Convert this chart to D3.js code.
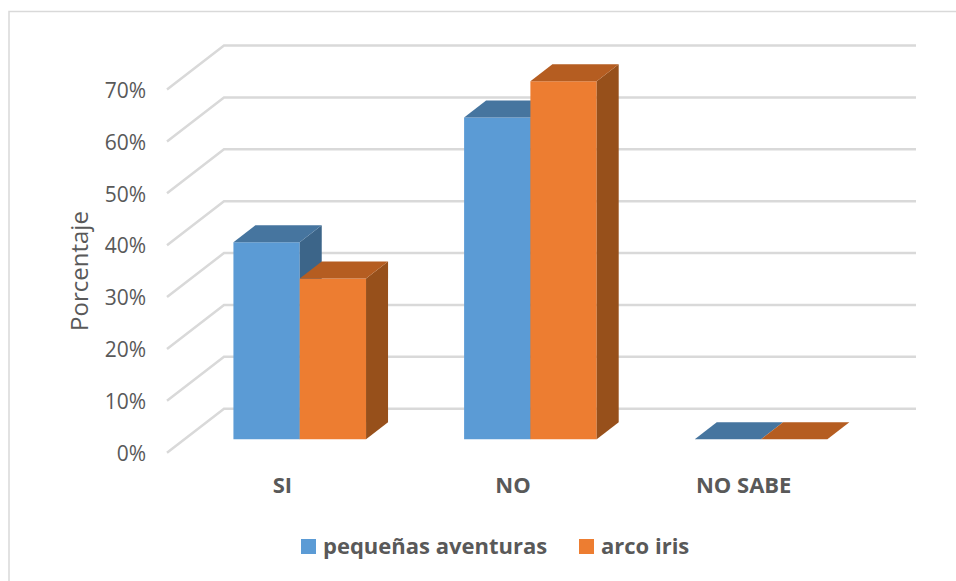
<!DOCTYPE html>
<html lang="es">
<head>
    <meta charset="UTF-8">
    <title>Porcentaje por respuesta</title>
    <script src="https://d3js.org/d3.v7.min.js"></script>
    <style>
        html, body {
            margin: 0;
            padding: 0;
            background: #fff;
            overflow: hidden;
        }
        text {
            font-family: "Open Sans", sans-serif;
            fill: #595959;
        }
        .tick line, .domain {
            display: none;
        }
        .y-axis text {
            font-size: 21px;
        }
        .x-axis text, .legend-label {
            font-size: 22px;
            font-weight: bold;
        }
        .axis-title {
            font-size: 24px;
        }
    </style>
</head>
<body>
    <div id="chart"></div>
    <script>
        const categories = ["SI", "NO", "NO SABE"];
        const seriesNames = ["pequeñas aventuras", "arco iris"];
        const pequenasAventuras = [38, 62, 0];
        const arcoIris = [31, 69, 0];
        const yTicks = [0, 10, 20, 30, 40, 50, 60, 70];

        const width = 956;
        const height = 581;

        const svg = d3.select("#chart")
            .append("svg")
                .attr("width", width)
                .attr("height", height);

        // Chart area border, runs off the right and bottom of the page
        svg.append("rect")
            .attr("x", 9)
            .attr("y", 11.5)
            .attr("width", 1000)
            .attr("height", 700)
            .attr("fill", "#fff")
            .attr("stroke", "#d9d9d9")
            .attr("stroke-width", 1.5);

        // Scales live on the front edge of the floor
        const xScale = d3.scaleBand().domain(categories).range([167, 859]);
        const yScale = d3.scaleLinear().domain([0, 70]).range([452.7, 89.5]);
        const seriesScale = d3.scaleBand().domain(seriesNames).range([-66.3, 66.3]);

        // Oblique projection: how far the back wall and the bars sit from the front edge
        const wall = {dx: 57, dy: -44};
        const barFront = {dx: 17.4, dy: -13.4};
        const barDepth = {dx: 22, dy: -17};

        const colors = {
            "pequeñas aventuras": {front: "#5b9bd5", top: "#46759f", side: "#3c6589"},
            "arco iris": {front: "#ed7d31", top: "#b55d21", side: "#97501b"}
        };

        // Gridlines: slanted on the side wall, flat along the back wall
        const grid = d3.line();
        svg.append("g")
            .selectAll("path")
            .data(yTicks)
            .join("path")
                .attr("fill", "none")
                .attr("stroke", "#d9d9d9")
                .attr("stroke-width", 2.5)
                .attr("d", d => grid([
                    [xScale.range()[0], yScale(d)],
                    [xScale.range()[0] + wall.dx, yScale(d) + wall.dy],
                    [xScale.range()[1] + wall.dx, yScale(d) + wall.dy]
                ]));

        const poly = d3.line();

        // One 3D bar: front face, top and right side
        function drawBar(g, category, name, value) {
            const c = colors[name];
            const x0 = xScale(category) + xScale.bandwidth() / 2 + seriesScale(name) + barFront.dx;
            const x1 = x0 + seriesScale.bandwidth();
            const yb = yScale(0) + barFront.dy;
            const yt = yScale(value) + barFront.dy;
            const dx = barDepth.dx;
            const dy = barDepth.dy;

            if (value > 0) {
                g.append("path")
                    .attr("fill", c.front)
                    .attr("d", poly([[x0, yb], [x1, yb], [x1, yt], [x0, yt]]) + "Z");
                g.append("path")
                    .attr("fill", c.side)
                    .attr("d", poly([[x1, yb], [x1 + dx, yb + dy], [x1 + dx, yt + dy], [x1, yt]]) + "Z");
            }
            g.append("path")
                .attr("fill", c.top)
                .attr("d", poly([[x0, yt], [x1, yt], [x1 + dx, yt + dy], [x0 + dx, yt + dy]]) + "Z");
        }

        const bars = svg.append("g");
        categories.forEach((category, i) => {
            drawBar(bars, category, seriesNames[0], pequenasAventuras[i]);
            drawBar(bars, category, seriesNames[1], arcoIris[i]);
        });

        // Axes, labels only
        svg.append("g")
            .attr("class", "y-axis")
            .attr("transform", "translate(146,1)")
            .call(d3.axisLeft(yScale).tickValues(yTicks).tickSize(0).tickPadding(0).tickFormat(d => d + "%"));

        svg.append("g")
            .attr("class", "x-axis")
            .attr("transform", "translate(0,477.5)")
            .call(d3.axisBottom(xScale).tickSize(0).tickPadding(0));

        svg.append("text")
            .attr("class", "axis-title")
            .attr("transform", "translate(88,271) rotate(-90)")
            .style("text-anchor", "middle")
            .text("Porcentaje");

        // Legend
        const legendItems = [
            {name: seriesNames[0], swatch: 301, label: 323},
            {name: seriesNames[1], swatch: 579, label: 601}
        ];
        const legend = svg.append("g");
        legendItems.forEach(item => {
            legend.append("rect")
                .attr("x", item.swatch)
                .attr("y", 539)
                .attr("width", 15)
                .attr("height", 15)
                .attr("fill", colors[item.name].front);
            legend.append("text")
                .attr("class", "legend-label")
                .attr("x", item.label)
                .attr("y", 554)
                .text(item.name);
        });
    </script>
</body>
</html>
